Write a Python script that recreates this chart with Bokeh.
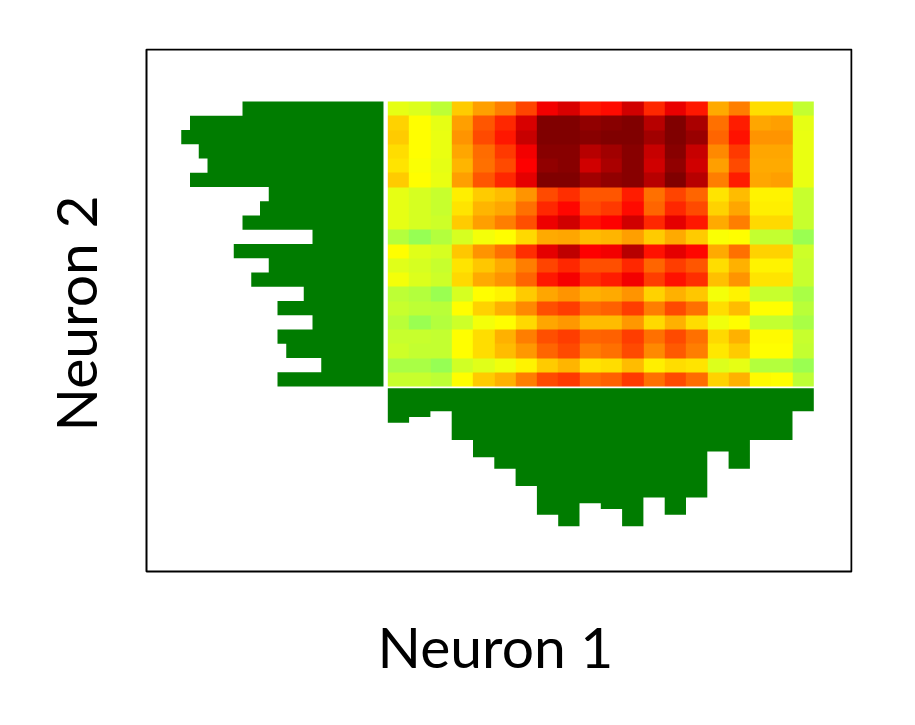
import numpy as np
from bokeh.plotting import figure
from bokeh.models import LinearColorMapper, Range1d
from bokeh.embed import file_html
from bokeh.resources import INLINE

x_label = "Neuron 1"
y_label = "Neuron 2"

# Activation per cell, rows listed top to bottom
row00 = [20,18,12,34,42,48,58,73,79,66,68,81,63,75,66,40,48,31,31,13]
row01 = [33,25,20,42,55,63,79,100,100,96,98,100,87,100,90,50,65,41,42,20]
row02 = [34,25,21,44,57,66,83,100,100,98,100,100,92,100,94,52,67,44,44,21]
row03 = [31,25,21,41,51,60,73,98,98,87,92,98,83,98,83,46,60,41,41,21]
row04 = [30,24,20,38,50,57,70,96,98,81,90,98,81,96,81,42,57,40,40,21]
row05 = [34,25,21,42,55,63,76,100,100,92,96,98,87,100,87,48,65,41,42,21]
row06 = [20,17,14,28,34,37,44,57,62,55,55,65,50,58,52,30,37,27,27,14]
row07 = [20,17,14,30,38,41,50,63,69,57,60,68,52,63,57,33,41,28,28,14]
row08 = [20,17,15,34,42,48,56,74,81,67,70,81,63,76,66,40,48,32,32,14]
row09 = [10,4,10,17,23,25,32,40,41,37,38,42,34,40,34,24,25,13,13,5]
row10 = [25,19,17,35,44,50,62,76,85,70,73,87,67,76,69,40,50,33,33,15]
row11 = [19,17,14,30,35,40,48,58,63,56,56,63,52,59,55,31,39,27,27,14]
row12 = [23,18,15,32,40,44,52,66,72,62,65,73,59,67,62,36,44,30,30,14]
row13 = [12,10,5,17,25,27,34,41,44,39,40,44,33,39,35,23,27,14,14,8]
row14 = [14,12,11,25,33,39,46,56,59,51,53,59,48,57,50,31,37,25,25,11]
row15 = [11,5,10,15,23,25,32,41,43,37,37,43,32,39,31,22,25,13,13,8]
row16 = [14,14,13,25,31,39,48,56,59,52,53,59,50,57,50,32,39,26,26,14]
row17 = [15,13,13,25,31,37,43,52,57,48,50,57,46,54,48,29,34,25,25,13]
row18 = [8,8,4,16,19,22,27,34,38,30,31,37,28,31,30,18,20,10,10,5]
row19 = [14,14,12,25,34,39,48,57,60,51,53,60,50,57,51,33,39,26,25,12]
grid = [row00,row01,row02,row03,row04,row05,row06,row07,row08,row09,
        row10,row11,row12,row13,row14,row15,row16,row17,row18,row19]

# Histogram counts
left_counts = [16,22,23,21,20,22,13,14,16,8,17,13,15,9,12,8,12,11,7,12]
bottom_counts = [6,5,4,9,12,14,17,22,24,20,21,24,19,22,19,11,14,9,9,4]

# Colour ramp
stops = [(0,(130,255,100)),(25,(255,255,0)),(70,(255,0,0)),(100,(128,0,0))]
palette = []
for i in range(256):
    v = i/255*100
    for (a,ca),(b,cb) in zip(stops, stops[1:]):
        if v <= b:
            t = (v-a)/(b-a)
            palette.append("#%02x%02x%02x" % tuple(round(p+(q-p)*t) for p,q in zip(ca,cb)))
            break
mapper = LinearColorMapper(palette=palette, low=0, high=100)

# Geometry of the picture
CW, RH = 21.3, 14.25
X0, Y0 = 387.3, 101.0
BL, BR, BT, BB = 146, 851, 49, 571      # drawn box
FL, FR, FT, FB = 138, 852, 48, 578      # plot frame, centred on the axis titles
W, H = 899, 709

def dx(px): return (px-X0)/CW
def dy(py): return (py-Y0)/RH

p = figure(width=W, height=H, output_backend="svg", toolbar_location=None,
           x_range=Range1d(dx(FL), dx(FR)), y_range=Range1d(dy(FB), dy(FT)),
           min_border_left=FL, min_border_right=W-FR,
           min_border_top=FT, min_border_bottom=H-FB,
           background_fill_color="white", border_fill_color="white")
p.grid.visible = False
p.outline_line_color = None
p.xaxis.ticker = []
p.yaxis.ticker = []
p.axis.axis_line_color = None
p.axis.major_tick_line_color = None
p.axis.minor_tick_line_color = None
p.xaxis.axis_label = x_label
p.yaxis.axis_label = y_label
p.axis.axis_label_text_font = "Lato"
p.axis.axis_label_text_font_size = "57px"
p.axis.axis_label_text_font_style = "normal"
p.axis.axis_label_text_color = "black"
p.xaxis.axis_label_standoff = 33
p.yaxis.axis_label_standoff = 30

p.quad(left=[dx(BL)], right=[dx(BR)], top=[dy(BT)], bottom=[dy(BB)],
       fill_color=None, line_color="black", line_width=2)

p.image(image=[np.array(grid, dtype=float)], x=0, y=0, dw=20, dh=20, color_mapper=mapper)

lx, ly = [], []
for r, n in enumerate(left_counts):
    lx += [dx(383-(n*8.75+1))]*2
    ly += [r, r+1]
p.patch([dx(383)]+lx+[dx(383)], [0]+ly+[20], fill_color="#007c00", line_color=None)

bx, by = [], []
for c, n in enumerate(bottom_counts):
    bx += [c, c+1]
    by += [dy(387.7+n*5.75)]*2
p.patch([0]+bx+[20], [dy(387.7)]+by+[dy(387.7)], fill_color="#007c00", line_color=None)

open("out.html", "w").write(file_html(p, INLINE))
